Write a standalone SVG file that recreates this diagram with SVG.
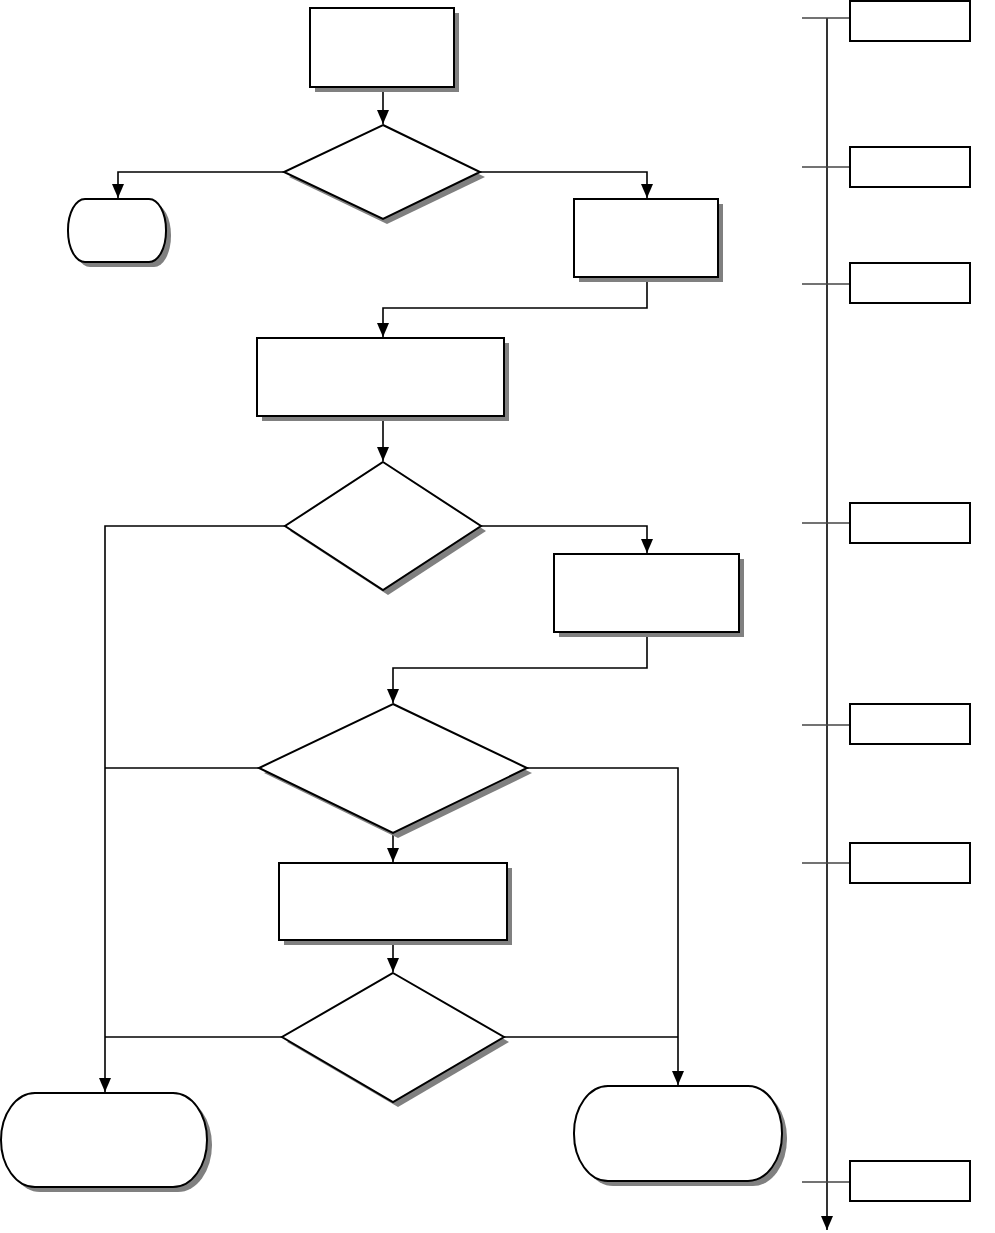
<svg xmlns="http://www.w3.org/2000/svg" width="995" height="1233" viewBox="0 0 995 1233">
<style>
.n{fill:#fff;stroke:#000;stroke-width:2}
.s{fill:#808080;stroke:none}
.c{fill:none;stroke:#000;stroke-width:1.6}
.t{fill:none;stroke:#444;stroke-width:1.4}
.b{fill:#fff;stroke:#000;stroke-width:2}
</style>
<defs>
<marker id="d" markerUnits="userSpaceOnUse" markerWidth="15" markerHeight="12" refX="14" refY="6" orient="auto" viewBox="0 0 15 12">
<path d="M0,0 L14,6 L0,12 Z" fill="#000"/>
</marker>
</defs>
<rect width="995" height="1233" fill="#fff"/>
<g id="connectors">
<path class="c" d="M383,87 V124" marker-end="url(#d)"/>
<path class="c" d="M284,172 H118 V198" marker-end="url(#d)"/>
<path class="c" d="M480,172 H647 V198" marker-end="url(#d)"/>
<path class="c" d="M647,277 V308 H383 V337" marker-end="url(#d)"/>
<path class="c" d="M383,416 V461" marker-end="url(#d)"/>
<path class="c" d="M285,526 H105 V1092" marker-end="url(#d)"/>
<path class="c" d="M481,526 H647 V553" marker-end="url(#d)"/>
<path class="c" d="M647,632 V668 H393 V703" marker-end="url(#d)"/>
<path class="c" d="M259,768 H105"/>
<path class="c" d="M527,768 H678 V1085" marker-end="url(#d)"/>
<path class="c" d="M393,833 V862" marker-end="url(#d)"/>
<path class="c" d="M393,940 V972" marker-end="url(#d)"/>
<path class="c" d="M282,1037 H105"/>
<path class="c" d="M504,1037 H678"/>
</g>
<g id="timeline">
<path class="c" d="M827,18 V1230" marker-end="url(#d)"/>
<path class="t" d="M802,18 H850"/>
<path class="t" d="M802,167 H850"/>
<path class="t" d="M802,284 H850"/>
<path class="t" d="M802,523 H850"/>
<path class="t" d="M802,725 H850"/>
<path class="t" d="M802,863 H850"/>
<path class="t" d="M802,1182 H850"/>
</g>
<g id="tbox1"><rect class="b" x="850" y="1" width="120" height="40"/></g>
<g id="tbox2"><rect class="b" x="850" y="147" width="120" height="40"/></g>
<g id="tbox3"><rect class="b" x="850" y="263" width="120" height="40"/></g>
<g id="tbox4"><rect class="b" x="850" y="503" width="120" height="40"/></g>
<g id="tbox5"><rect class="b" x="850" y="704" width="120" height="40"/></g>
<g id="tbox6"><rect class="b" x="850" y="843" width="120" height="40"/></g>
<g id="tbox7"><rect class="b" x="850" y="1161" width="120" height="40"/></g>
<g id="start">
<rect class="s" x="315" y="13" width="144" height="79"/>
<rect class="n" x="310" y="8" width="144" height="79"/>
</g>
<g id="dec1">
<polygon class="s" points="387,130 485,177 387,224 289,177"/>
<polygon class="n" points="383,125 480,172 383,219 284,172"/>
</g>
<g id="term1">
<rect class="s" x="73" y="204" width="98" height="63" rx="17" ry="31"/>
<rect class="n" x="68" y="199" width="98" height="63" rx="17" ry="31"/>
</g>
<g id="proc1">
<rect class="s" x="579" y="204" width="144" height="78"/>
<rect class="n" x="574" y="199" width="144" height="78"/>
</g>
<g id="proc2">
<rect class="s" x="262" y="343" width="247" height="78"/>
<rect class="n" x="257" y="338" width="247" height="78"/>
</g>
<g id="dec2">
<polygon class="s" points="388,467 486,531 388,595 290,531"/>
<polygon class="n" points="383,462 481,526 383,590 285,526"/>
</g>
<g id="proc3">
<rect class="s" x="559" y="559" width="185" height="78"/>
<rect class="n" x="554" y="554" width="185" height="78"/>
</g>
<g id="dec3">
<polygon class="s" points="398,709 532,773 398,838 264,773"/>
<polygon class="n" points="393,704 527,768 393,833 259,768"/>
</g>
<g id="proc4">
<rect class="s" x="284" y="868" width="228" height="77"/>
<rect class="n" x="279" y="863" width="228" height="77"/>
</g>
<g id="dec4">
<polygon class="s" points="398,978 509,1042 398,1107 287,1042"/>
<polygon class="n" points="393,973 504,1037 393,1102 282,1037"/>
</g>
<g id="term2">
<rect class="s" x="6" y="1098" width="206" height="94" rx="34" ry="47"/>
<rect class="n" x="1" y="1093" width="206" height="94" rx="34" ry="47"/>
</g>
<g id="term3">
<rect class="s" x="579" y="1091" width="208" height="95" rx="34" ry="47"/>
<rect class="n" x="574" y="1086" width="208" height="95" rx="34" ry="47"/>
</g>
</svg>
